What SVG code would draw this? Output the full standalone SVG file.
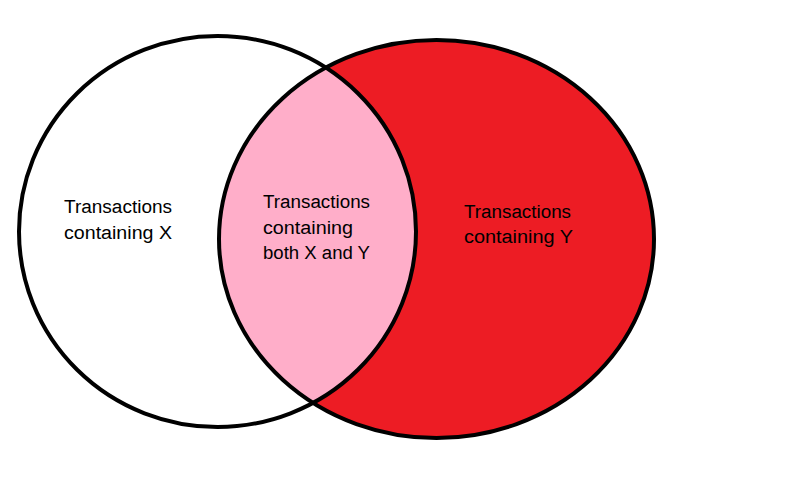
<svg xmlns="http://www.w3.org/2000/svg" width="800" height="494" viewBox="0 0 800 494">
  <style>
    .outline { fill: none; stroke: #000; stroke-width: 4; }
    .label { font-family: "Liberation Sans", Arial, sans-serif; font-size: 18px; fill: #000; }
  </style>
  <defs>
    <clipPath id="clipX">
      <ellipse cx="217.5" cy="231.5" rx="198.5" ry="195.5"/>
    </clipPath>
  </defs>
  <rect x="0" y="0" width="800" height="494" fill="#fff"/>
  <g id="setX-fill">
    <ellipse cx="217.5" cy="231.5" rx="198.5" ry="195.5" fill="#fff"/>
  </g>
  <g id="setY">
    <ellipse cx="436.5" cy="239" rx="217.5" ry="199" fill="#ED1C24"/>
  </g>
  <g id="intersection">
    <ellipse cx="436.5" cy="239" rx="217.5" ry="199" fill="#FFAEC9" clip-path="url(#clipX)"/>
  </g>
  <g id="outlines">
    <ellipse class="outline" cx="217.5" cy="231.5" rx="198.5" ry="195.5"/>
    <ellipse class="outline" cx="436.5" cy="239" rx="217.5" ry="199"/>
  </g>
  <g id="label-x">
    <text class="label" x="64" y="213" textLength="108" lengthAdjust="spacingAndGlyphs">Transactions</text>
    <text class="label" x="64" y="239" textLength="108" lengthAdjust="spacingAndGlyphs">containing X</text>
  </g>
  <g id="label-xy">
    <text class="label" x="263" y="208" textLength="107" lengthAdjust="spacingAndGlyphs">Transactions</text>
    <text class="label" x="263" y="234" textLength="90" lengthAdjust="spacingAndGlyphs">containing</text>
    <text class="label" x="263" y="259" textLength="107" lengthAdjust="spacingAndGlyphs">both X and Y</text>
  </g>
  <g id="label-y">
    <text class="label" x="464" y="218" textLength="107" lengthAdjust="spacingAndGlyphs">Transactions</text>
    <text class="label" x="464" y="243" textLength="109" lengthAdjust="spacingAndGlyphs">containing Y</text>
  </g>
</svg>
